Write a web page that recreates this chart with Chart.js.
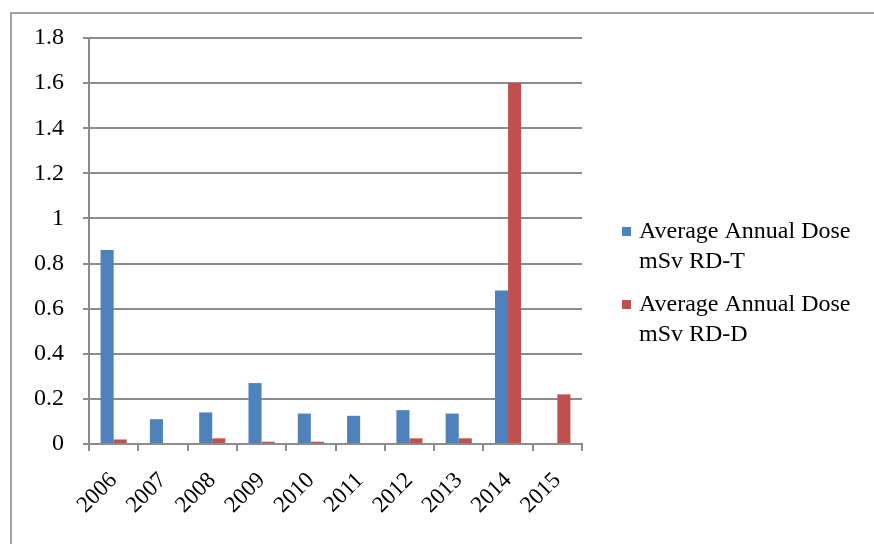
<!DOCTYPE html>
<html>
<head>
<meta charset="utf-8">
<script src="https://cdn.jsdelivr.net/npm/chart.js@4.4.0/dist/chart.umd.min.js"></script>
<style>
body{margin:0;background:#fff;}
#wrap{position:relative;width:874px;height:544px;overflow:hidden;}
#frame{position:absolute;left:10px;top:12px;width:880px;height:560px;border:2px solid #a0a0a0;box-sizing:border-box;}
#c{position:absolute;left:0;top:0;}
</style>
</head>
<body>
<div id="wrap">
<div id="frame"></div>
<canvas id="c" width="874" height="544"></canvas>
</div>
<script>
const years = ["2006","2007","2008","2009","2010","2011","2012","2013","2014","2015"];
const rdT = [0.86,0.11,0.14,0.27,0.135,0.125,0.15,0.135,0.68,0];
const rdD = [0.02,0,0.025,0.01,0.01,0,0.025,0.025,1.6,0.22];
const seriesNames = ["Average Annual Dose mSv RD-T","Average Annual Dose mSv RD-D"];
const yTicks = [0,0.2,0.4,0.6,0.8,1,1.2,1.4,1.6,1.8];

const FONT = "'Liberation Serif','Times New Roman',serif";

// legend on the right, two lines each
const sideLegend = {
    id:"sideLegend",
    afterDraw(chart){
        const ctx = chart.ctx;
        ctx.save();
        ctx.font = "24px " + FONT;
        ctx.fillStyle = "#000";
        ctx.textBaseline = "middle";
        let y = 232;
        chart.data.datasets.forEach(ds=>{
            // wrap the label
            let words = ds.label.split(" "), lines = [], cur = "";
            words.forEach(w=>{
                let t = cur ? cur + " " + w : w;
                if(ctx.measureText(t).width > 228 && cur){ lines.push(cur); cur = w; }
                else cur = t;
            });
            lines.push(cur);
            ctx.fillStyle = ds.backgroundColor;
            ctx.fillRect(622, y-5, 9, 9);
            ctx.fillStyle = "#000";
            lines.forEach((l,i)=>ctx.fillText(l, 639, y + i*30));
            y += lines.length*30 + 13;
        });
        ctx.restore();
    }
};

new Chart(document.getElementById("c"),{
    type:"bar",
    data:{
        labels: years,
        datasets:[
            {label:seriesNames[0], data:rdT, backgroundColor:"#4F81BD"},
            {label:seriesNames[1], data:rdD, backgroundColor:"#C0504D"}
        ]
    },
    options:{
        responsive:false,
        animation:false,
        layout:{ padding:{left:10, top:38, right:292, bottom:0} },
        datasets:{ bar:{ categoryPercentage:0.53, barPercentage:1 } },
        plugins:{ legend:{display:false}, tooltip:{enabled:false} },
        scales:{
            x:{
                afterFit(s){ s.height = 100; },
                grid:{ drawOnChartArea:false, drawTicks:true, tickLength:7, color:"#8c8c8c", lineWidth:2 },
                border:{ color:"#8c8c8c", width:2 },
                ticks:{ minRotation:45, maxRotation:45, color:"#000", font:{family:FONT, size:23}, padding:16 }
            },
            y:{
                min:0, max:1.8,
                afterFit(s){ s.width = 79; },
                afterBuildTicks(s){ s.ticks = yTicks.map(v=>({value:v})); },
                grid:{ color:"#8c8c8c", lineWidth:2, tickLength:6 },
                border:{ color:"#8c8c8c", width:2 },
                ticks:{ color:"#000", font:{family:FONT, size:24}, padding:19,
                    callback:v=>String(parseFloat(v.toFixed(1))) }
            }
        }
    },
    plugins:[sideLegend]
});
</script>
</body>
</html>
